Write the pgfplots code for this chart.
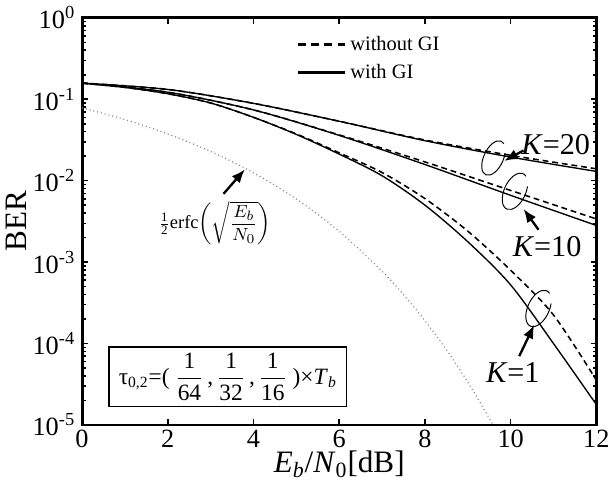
\documentclass[border=0pt]{standalone}
\usepackage{amsmath}
\usepackage{fontspec}
\setmainfont{Liberation Serif}
\usepackage{pgfplots}
\pgfplotsset{compat=1.18}
\usetikzlibrary{arrows.meta, calc}

\begin{document}
\begin{tikzpicture}
\begin{axis}[
  scale only axis,
  width=264pt, height=209pt,
  xmin=0, xmax=12,
  ymode=log, ymin=1e-5, ymax=1,
  xtick={0,2,4,6,8,10,12},
  ytick={1e-5,1e-4,1e-3,1e-2,1e-1,1},
  yticklabels={10\textsuperscript{-5},10\textsuperscript{-4},10\textsuperscript{-3},10\textsuperscript{-2},10\textsuperscript{-1},10\textsuperscript{0}},
  tick label style={font=\fontsize{13.5}{14}\selectfont},
  xticklabel style={yshift=1pt},
  /pgf/number format/assume math mode=true,
  tick align=inside,
  major tick length=3pt, minor tick length=1.8pt,
  every tick/.style={black, line width=0.8pt},
  axis line style={line width=1.5pt},
  xlabel={\textit{E}\textsubscript{\textit{b}}/\textit{N}\textsubscript{0}[dB]},
  ylabel={BER},
  label style={font=\fontsize{16}{17}\selectfont},
  xlabel style={yshift=5pt},
  ylabel style={yshift=-4pt},
  legend image code/.code={\draw[#1] (0cm,0cm) -- (0.85cm,0cm);},
  legend style={draw=none, fill=none, at={(0.405,0.975)}, anchor=north west,
    font=\fontsize{10.5}{11}\selectfont, row sep=1.5pt},
  legend cell align=left,
  clip mode=individual,
]
\addlegendimage{black, line width=1.4pt, dash pattern=on 4pt off 2.8pt}
\addlegendentry{without GI}
\addlegendimage{black, line width=1.4pt}
\addlegendentry{with GI}

% K = 20
\addplot[forget plot, black, line width=0.8pt, dash pattern=on 3pt off 2pt, smooth] coordinates {
  (0,0.158) (2,0.132) (4,0.0891) (6,0.0537) (8,0.0316) (10,0.0205) (12,0.0140)
};
\addplot[forget plot, black, line width=0.7pt, smooth] coordinates {
  (0,0.158) (2,0.132) (4,0.0891) (6,0.0537) (8,0.0310) (10,0.0195) (12,0.0130)
};
% K = 10
\addplot[forget plot, black, line width=0.8pt, dash pattern=on 3pt off 2pt, smooth] coordinates {
  (0,0.158) (2,0.122) (4,0.0740) (6,0.0365) (8,0.0170) (10,0.00759) (12,0.00339)
};
\addplot[forget plot, black, line width=0.7pt, smooth] coordinates {
  (0,0.158) (2,0.122) (4,0.0740) (6,0.0360) (8,0.0158) (10,0.00661) (12,0.00282)
};
% K = 1
\addplot[forget plot, black, line width=0.8pt, dash pattern=on 3pt off 2pt, smooth] coordinates {
  (0,0.158) (1,0.140) (2,0.117) (3,0.0900) (4,0.0600) (5,0.0375) (6,0.0220)
  (7,0.0126) (8,0.00603) (9,0.00240) (10,0.000794) (11,0.000224) (12,0.0000355)
};
\addplot[forget plot, black, line width=0.7pt, smooth] coordinates {
  (0,0.158) (1,0.140) (2,0.117) (3,0.0900) (4,0.0600) (5,0.0370) (6,0.0212)
  (7,0.0115) (8,0.00501) (9,0.00178) (10,0.000525) (11,0.000100) (12,0.0000178)
};
% 1/2 erfc(sqrt(Eb/N0))
\addplot[forget plot, gray, line width=0.6pt, dash pattern=on 0.5pt off 1.5pt, smooth] coordinates {
  (0,0.0786) (1,0.0563) (2,0.0375) (3,0.0229) (4,0.0125) (5,0.00595) (6,0.00239)
  (7,0.000773) (7.5,0.000399) (8,0.000191) (8.5,0.0000840) (9,0.0000336)
  (9.5,0.0000121) (9.6,0.0000098)
};

% annotations
\draw[line width=0.5pt, rotate around={-25:(axis cs:9.6,0.019)}]
  (axis cs:9.6,0.019) ++(70:5pt and 9.5pt) arc[start angle=70, end angle=390, x radius=5pt, y radius=9.5pt];
\draw[line width=0.5pt, rotate around={-25:(axis cs:10.1,0.0074)}]
  (axis cs:10.1,0.0074) ++(70:5.5pt and 10pt) arc[start angle=70, end angle=390, x radius=5.5pt, y radius=10pt];
\draw[line width=0.5pt, rotate around={-25:(axis cs:10.65,0.00027)}]
  (axis cs:10.65,0.00027) ++(70:5.5pt and 10pt) arc[start angle=70, end angle=390, x radius=5.5pt, y radius=10pt];

\draw[-{Latex[length=7pt,width=5.5pt]}, line width=1.2pt] (axis cs:10.3,0.0235) -- (axis cs:9.85,0.0175);
\draw[-{Latex[length=7pt,width=5.5pt]}, line width=1.2pt] (axis cs:10.65,0.0025) -- (axis cs:10.3,0.0045);
\draw[-{Latex[length=7pt,width=5.5pt]}, line width=1.2pt] (axis cs:10.2,0.00007) -- (axis cs:10.55,0.00017);
\draw[-{Latex[length=7pt,width=5.5pt]}, line width=1.2pt] (axis cs:3.3,0.0069) -- (axis cs:3.8,0.0138);

\node[font=\fontsize{15.5}{16}\selectfont] at (axis cs:11.05,0.028) {\textit{K}=20};
\node[font=\fontsize{15.5}{16}\selectfont] at (axis cs:10.85,0.00155) {\textit{K}=10};
\node[font=\fontsize{15.5}{16}\selectfont] at (axis cs:10.05,0.000044) {\textit{K}=1};
\node[font=\fontsize{9.5}{10}\selectfont] at (axis cs:3.1,0.0030)
  {$\frac{\text{1}}{\text{2}}$erfc$\left(\sqrt{\dfrac{E_b}{N_0}}\right)$};
\node[draw, line width=0.8pt, fill=white, inner xsep=5pt, inner ysep=3pt, font=\fontsize{12}{13}\selectfont]
  at (axis cs:3.4,0.000039)
  {τ\textsubscript{0,2}=( $\dfrac{\text{1}}{\text{64}}$\,,\,$\dfrac{\text{1}}{\text{32}}$\,,\,$\dfrac{\text{1}}{\text{16}}$ )×\textit{T}\textsubscript{\textit{b}}};
\end{axis}
\pgfresetboundingbox
\path (current axis.outer south west) rectangle ($(current axis.outer north east -| current axis.east)+(7.5pt,0)$);
\end{tikzpicture}
\end{document}
